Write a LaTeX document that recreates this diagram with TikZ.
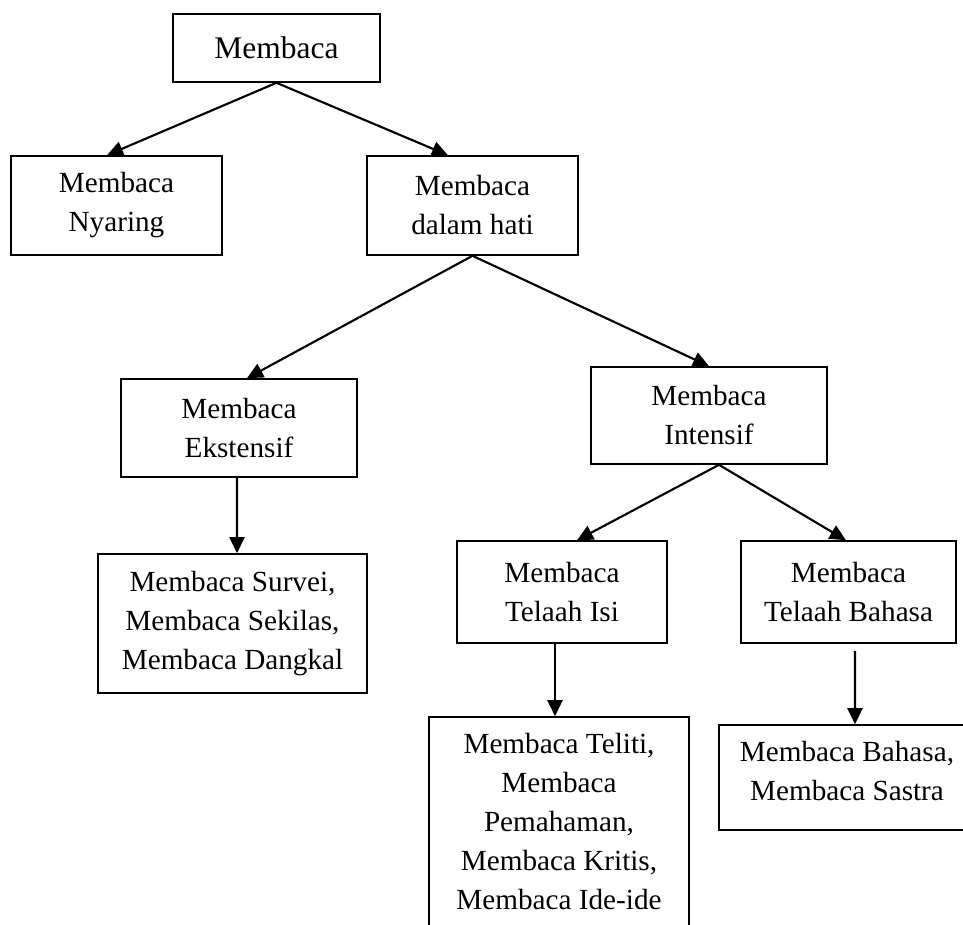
\documentclass[tikz,border=0pt]{standalone}
\usepackage{fontspec}
\setmainfont{Liberation Serif}
\usetikzlibrary{arrows.meta}

\begin{document}
\begin{tikzpicture}[
    x=0.75pt, y=-0.75pt, % one unit is one pixel, y runs downwards
    % Styles for the boxes and the arrows
    box/.style={rectangle, draw, line width=1.2pt, inner sep=0pt, align=center,
        font=\fontsize{21.9}{29.25}\selectfont},
    topbox/.style={box, font=\fontsize{23.6}{29.25}\selectfont}, % slightly larger text on top
    line/.style={
        draw, line width=1.6pt,
        -{Triangle[length=12pt,width=11.25pt]}
    }
]

% Define a command for one box: style, name, centre x, centre y, width, height, text
\newcommand{\placebox}[7][box]{
    \node [#1, minimum width=#5*0.75pt, minimum height=#6*0.75pt] (#2) at (#3,#4) {#7};
}

\useasboundingbox (0,0) rectangle (963,924);

% The boxes, row by row
\placebox[topbox]{membaca}{276.5}{48}{207}{68}{Membaca}
\placebox{nyaring}{116.5}{205.5}{211}{99}{Membaca\\Nyaring}
\placebox{dalamhati}{472.5}{205.5}{211}{99}{Membaca\\dalam hati}
\placebox{ekstensif}{239}{428}{236}{98}{Membaca\\Ekstensif}
\placebox{intensif}{709}{415.5}{236}{97}{Membaca\\Intensif}
\placebox{survei}{232.5}{623.5}{269}{139}{Membaca Survei,\\Membaca Sekilas,\\Membaca Dangkal}
\placebox{telaahisi}{562}{592}{210}{102}{Membaca\\Telaah Isi}
\placebox{telaahbahasa}{848.5}{592}{215}{102}{Membaca\\Telaah Bahasa}
\placebox{teliti}{559}{821.5}{260}{209}{Membaca Teliti,\\Membaca\\Pemahaman,\\Membaca Kritis,\\Membaca Ide-ide}
\placebox{sastra}{847}{777.5}{256}{105}{Membaca Bahasa,\\Membaca Sastra\rule[-10pt]{0pt}{0pt}} % text sits above the middle

% Arrows from each box to the boxes below it
\path [line] (membaca.south) -- ([xshift=-7.1pt]nyaring.north);
\path [line] (membaca.south) -- ([xshift=-18.4pt]dalamhati.north);
\path [line] (dalamhati.south) -- ([xshift=6pt]ekstensif.north);
\path [line] (dalamhati.south) -- (intensif.north);
\path [line] ([xshift=7.5pt]intensif.south) -- ([xshift=11.25pt]telaahisi.north);
\path [line] ([xshift=7.5pt]intensif.south) -- ([xshift=-2pt]telaahbahasa.north);
\path [line] ([xshift=-1.5pt]ekstensif.south) -- ([xshift=3.4pt]survei.north);
\path [line] ([xshift=-5.25pt]telaahisi.south) -- ([xshift=-3pt]teliti.north);
\path [line] ([xshift=4.9pt,yshift=-5.25pt]telaahbahasa.south) -- ([xshift=6pt]sastra.north); % starts a little below the box

\end{tikzpicture}
\end{document}
